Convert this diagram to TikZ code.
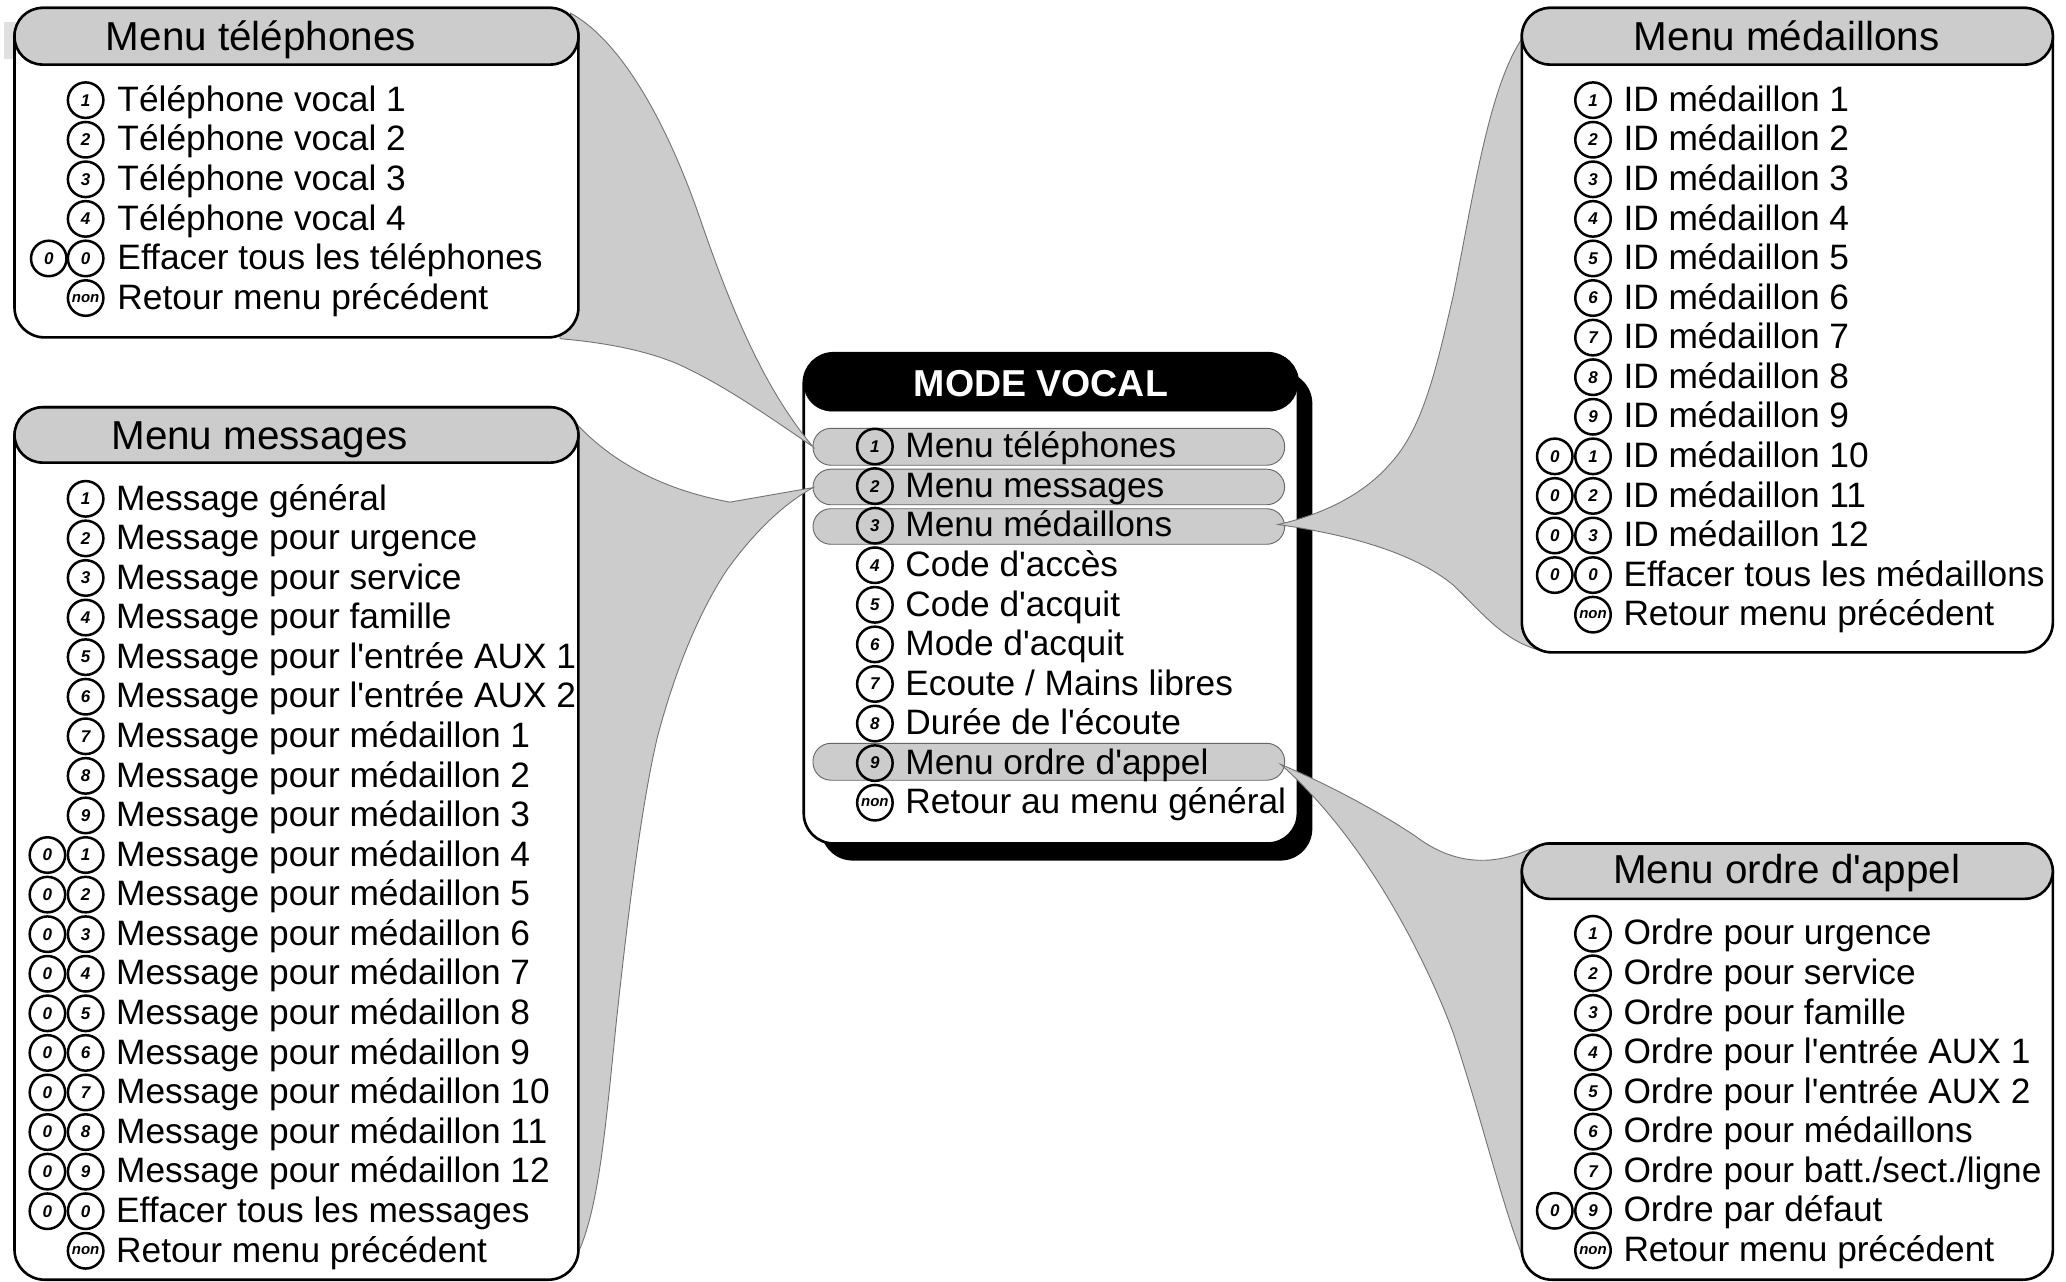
\documentclass[tikz,border=0pt]{standalone}
\usepackage{fontspec}
\setmainfont{Liberation Sans}[Ligatures=TeXOff]
\usetikzlibrary{fit}
\tikzset{
  panel/.style={draw=black,line width=2.6pt,fill=white,rounded corners=30pt,inner sep=0pt},
  headbar/.style={draw=black,line width=2.6pt,fill=barfill,rounded corners=28pt,inner sep=0pt},
  pill/.style={draw=black!60,line width=0.9pt,fill=barfill,rounded corners=18pt,inner sep=0pt},
  link/.style={draw=black!55,line width=0.9pt,fill=barfill},
  keycircle/.style={circle,draw=black,line width=2.5pt,fill=none,minimum size=35.5pt,inner sep=0pt,font=\fontsize{17}{17}\selectfont\bfseries\itshape},
  itemtext/.style={anchor=base west,inner sep=0pt,font=\fontsize{35.3}{36}\selectfont},
  headtext/.style={anchor=base,inner sep=0pt,font=\fontsize{40.4}{41}\selectfont},
}
\definecolor{barfill}{gray}{0.8}
\newcommand{\menurows}[6]{%
  % prefix, x first circle, x second circle, x text, y first, list
  \foreach \a/\b/\t [count=\i from 0] in {#6} {
    \pgfmathsetmacro{\yy}{#5+30.03*\i}
    \def\none{-}
    \ifx\a\none\else
      \node[keycircle] (#1a\i) at (#2,\yy) {\a};
    \fi
    \ifx\b\none
      \node[keycircle] (#1b\i) at (#3,\yy) {\fontsize{15}{15}\selectfont non};
    \else
      \node[keycircle] (#1b\i) at (#3,\yy) {\b};
    \fi
    \pgfmathsetmacro{\yb}{\yy+8.5}
    \node[itemtext] (#1t\i) at (#4,\yb) {\t};
  }
}
\begin{document}
\begin{tikzpicture}[x=1.31760pt,y=-1.31790pt]
\useasboundingbox (0,0) rectangle (1568,972);
\fill[white] (0,0) rectangle (1568,972);
\fill[black!12] (3,17) rectangle (12,45);

% central panel
\node[fit={(623,282)(996,653)},fill=black,rounded corners=32pt,inner sep=0pt] (vshadow) {};
\node[fit={(610,268)(985,640)},panel] (vbox) {};
\node[fit={(610,268)(985,312)},fill=black,draw=black,rounded corners=28pt,inner sep=0pt] (vhead) {};

% highlighted rows
\node[fit={(617,325)(975,353)},pill] (p1) {};
\node[fit={(617,356)(975,383)},pill] (p2) {};
\node[fit={(617,386)(975,413)},pill] (p3) {};
\node[fit={(617,564)(975,592)},pill] (p9) {};

% connectors
\coordinate (tipA) at (617,339);
\coordinate (tipB) at (617,370);
\coordinate (tipC) at (970,398);
\coordinate (tipD) at (972,580);
\draw[link] (433,10) .. controls (470,30) and (505,90) .. (531,165)
  .. controls (555,235) and (580,295) .. (tipA)
  .. controls (575,310) and (545,290) .. (514,276)
  .. controls (490,266) and (460,260) .. (425,257) -- cycle;
\draw[link] (435,319) .. controls (465,352) and (505,372) .. (554,381)
  -- (tipB)
  .. controls (590,385) and (568,410) .. (552,432)
  .. controls (530,465) and (512,510) .. (499,559)
  .. controls (487,610) and (477,690) .. (468,773)
  .. controls (460,850) and (455,915) .. (439,950) -- cycle;
\draw[link] (tipC) .. controls (1005,390) and (1035,375) .. (1055,352)
  .. controls (1080,325) and (1090,280) .. (1103,224)
  .. controls (1118,150) and (1130,65) .. (1156,28)
  -- (1167,493)
  .. controls (1140,485) and (1125,465) .. (1103,444)
  .. controls (1080,425) and (1040,408) .. (tipC) -- cycle;
\draw[link] (tipD) .. controls (1010,596) and (1050,618) .. (1075,635)
  .. controls (1095,650) and (1125,662) .. (1164,643)
  -- (1157,957)
  .. controls (1140,915) and (1125,850) .. (1103,784)
  .. controls (1085,735) and (1040,640) .. (tipD) -- cycle;

% side panels
\node[fit={(11,6)(439,256)},panel] (telbox) {};
\node[fit={(11,6)(439,49)},headbar] (telhead) {};
\node[fit={(11,309)(439,971)},panel] (msgbox) {};
\node[fit={(11,309)(439,351)},headbar] (msghead) {};
\node[fit={(1155,6)(1558,495)},panel] (medbox) {};
\node[fit={(1155,6)(1558,49)},headbar] (medhead) {};
\node[fit={(1155,640)(1558,971)},panel] (ordbox) {};
\node[fit={(1155,640)(1558,682)},headbar] (ordhead) {};

% titles
\node[anchor=base,inner sep=0pt,text=white,font=\fontsize{37.5}{38}\selectfont\bfseries] (vtitle) at (790,301) {MODE VOCAL};
\node[headtext] (telt) at (198,38) {Menu téléphones};
\node[headtext] (msgt) at (197,341) {Menu messages};
\node[headtext] (medt) at (1356,38) {Menu médaillons};
\node[headtext] (ordt) at (1356,670) {Menu ordre d'appel};

\menurows{v}{637}{664}{687}{338.8}{-/1/Menu téléphones,-/2/Menu messages,-/3/Menu médaillons,-/4/Code d'accès,-/5/Code d'acquit,-/6/Mode d'acquit,-/7/{Ecoute / Mains libres},-/8/Durée de l'écoute,-/9/Menu ordre d'appel,-/-/Retour au menu général}
\menurows{tel}{37}{65}{89}{76}{-/1/Téléphone vocal 1,-/2/Téléphone vocal 2,-/3/Téléphone vocal 3,-/4/Téléphone vocal 4,0/0/Effacer tous les téléphones,-/-/Retour menu précédent}
\menurows{msg}{36}{65}{88}{378.5}{-/1/Message général,-/2/Message pour urgence,-/3/Message pour service,-/4/Message pour famille,-/5/Message pour l'entrée AUX 1,-/6/Message pour l'entrée AUX 2,-/7/Message pour médaillon 1,-/8/Message pour médaillon 2,-/9/Message pour médaillon 3,0/1/Message pour médaillon 4,0/2/Message pour médaillon 5,0/3/Message pour médaillon 6,0/4/Message pour médaillon 7,0/5/Message pour médaillon 8,0/6/Message pour médaillon 9,0/7/Message pour médaillon 10,0/8/Message pour médaillon 11,0/9/Message pour médaillon 12,0/0/Effacer tous les messages,-/-/Retour menu précédent}
\menurows{med}{1180}{1209}{1232}{76}{-/1/ID médaillon 1,-/2/ID médaillon 2,-/3/ID médaillon 3,-/4/ID médaillon 4,-/5/ID médaillon 5,-/6/ID médaillon 6,-/7/ID médaillon 7,-/8/ID médaillon 8,-/9/ID médaillon 9,0/1/ID médaillon 10,0/2/ID médaillon 11,0/3/ID médaillon 12,0/0/Effacer tous les médaillons,-/-/Retour menu précédent}
\menurows{ord}{1180}{1209}{1232}{708.5}{-/1/Ordre pour urgence,-/2/Ordre pour service,-/3/Ordre pour famille,-/4/Ordre pour l'entrée AUX 1,-/5/Ordre pour l'entrée AUX 2,-/6/Ordre pour médaillons,-/7/{Ordre pour batt./sect./ligne},0/9/Ordre par défaut,-/-/Retour menu précédent}
\end{tikzpicture}
\end{document}
